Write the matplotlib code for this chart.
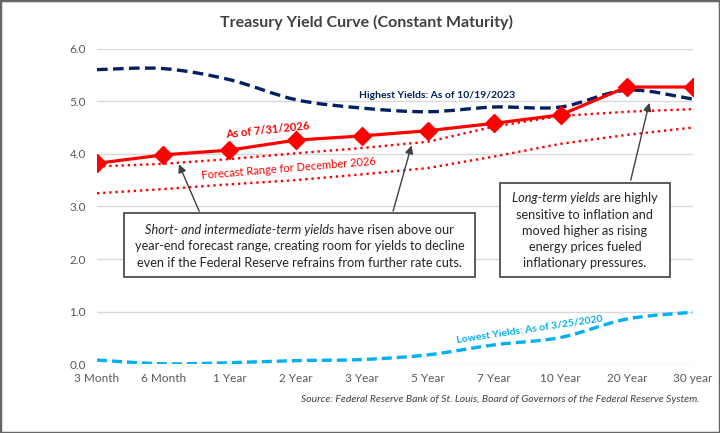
import matplotlib
matplotlib.use("Agg")
import matplotlib.pyplot as plt
import matplotlib.patches as mpatches
from matplotlib.path import Path
import numpy as np

plt.rcParams['font.family'] = ['Lato', 'DejaVu Sans']

maturities = ['3 Month', '6 Month', '1 Year', '2 Year', '3 Year', '5 Year',
              '7 Year', '10 Year', '20 Year', '30 year']
current = [3.82, 3.98, 4.07, 4.26, 4.34, 4.44, 4.58, 4.74, 5.27, 5.27]
highest = [5.60, 5.62, 5.41, 5.03, 4.87, 4.80, 4.89, 4.89, 5.21, 5.04]
lowest = [0.08, 0.01, 0.03, 0.07, 0.09, 0.18, 0.37, 0.51, 0.86, 0.99]
forecast_high = [3.76, 3.81, 3.90, 4.01, 4.11, 4.23, 4.52, 4.72, 4.80, 4.85]
forecast_low = [3.25, 3.33, 3.42, 3.50, 3.61, 3.73, 3.95, 4.19, 4.36, 4.50]
yticks = [0.0, 1.0, 2.0, 3.0, 4.0, 5.0, 6.0]

RED = '#ff0000'
NAVY = '#002060'
LBLUE = '#00b0f0'
GRAY = '#595959'


def smooth_path(xs, ys):
    # excel style smoothed line -> catmull-rom as cubic bezier
    pts = np.column_stack([xs, ys]).astype(float)
    n = len(pts)
    verts = [pts[0]]
    codes = [Path.MOVETO]
    for i in range(n - 1):
        p0 = pts[max(i - 1, 0)]
        p1 = pts[i]
        p2 = pts[i + 1]
        p3 = pts[min(i + 2, n - 1)]
        verts += [p1 + (p2 - p0) / 6, p2 - (p3 - p1) / 6, p2]
        codes += [Path.CURVE4] * 3
    return Path(verts, codes)


W, H = 720, 433
fig = plt.figure(figsize=(W / 100, H / 100), dpi=100)
fig.patches.append(mpatches.Rectangle((0, 0), 1, 1, transform=fig.transFigure,
                                      fill=False, edgecolor='#666666', lw=2.5))

ax = fig.add_axes([97 / W, 1 - 364.3 / H, (693 - 97) / W, (364.3 - 48.6) / H])
x = np.arange(len(maturities))

ax.plot(x, forecast_high, color=RED, lw=1.7, linestyle=(0, (1, 1.6)), zorder=3)
ax.plot(x, forecast_low, color=RED, lw=1.7, linestyle=(0, (1, 1.6)), zorder=3)
ax.add_patch(mpatches.PathPatch(smooth_path(x, highest), facecolor='none', edgecolor=NAVY,
                                lw=2.4, linestyle=(0, (3.2, 1.6)), zorder=4))
ax.add_patch(mpatches.PathPatch(smooth_path(x, lowest), facecolor='none', edgecolor=LBLUE,
                                lw=2.4, linestyle=(0, (3.0, 1.5)), zorder=4))
ax.plot(x, current, color=RED, lw=2.3, marker='D', markersize=9, zorder=5)

ax.set_xlim(0, 9)
ax.set_ylim(0, 6)
ax.set_xticks(x)
ax.set_xticklabels(maturities)
ax.set_yticks(yticks)
ax.set_yticklabels([f'{v:.1f}' for v in yticks])
ax.tick_params(length=0, labelsize=8.5, labelcolor=GRAY)
ax.tick_params(axis='y', pad=8)
ax.tick_params(axis='x', pad=6)
for s in ax.spines.values():
    s.set_visible(False)
ax.grid(axis='y', color='#d9d9d9', lw=1)
ax.set_axisbelow(True)

# series labels
ax.text(2.57, 4.45, 'As of 7/31/2026', color=RED, fontsize=8, fontweight='bold',
        rotation=6, ha='center', va='center')
ax.text(2.89, 3.73, 'Forecast Range for December 2026', color=RED, fontsize=8,
        rotation=4.7, ha='center', va='center')
ax.text(5.14, 5.11, 'Highest Yields: As of 10/19/2023', color=NAVY, fontsize=7.5,
        fontweight='bold', ha='center', va='center')
ax.text(6.53, 0.67, 'Lowest Yields: As of 3/25/2020', color=LBLUE, fontsize=7.5,
        fontweight='bold', rotation=8.4, ha='center', va='center')

# arrows
arrow_kw = dict(arrowstyle='-|>', color='#404040', lw=1, mutation_scale=12)
ax.annotate('', xy=(1.22, 3.85), xytext=(1.56, 2.86), arrowprops=arrow_kw, zorder=6)
ax.annotate('', xy=(4.76, 4.21), xytext=(4.46, 2.86), arrowprops=arrow_kw, zorder=6)
ax.annotate('', xy=(8.35, 5.02), xytext=(8.05, 3.45), arrowprops=arrow_kw, zorder=6)

# callout boxes (pixel positions of the reference)
def box(left, top, right, bottom):
    fig.patches.append(mpatches.Rectangle((left / W, 1 - bottom / H), (right - left) / W,
                                          (bottom - top) / H, transform=fig.transFigure,
                                          facecolor='white', edgecolor='#404040', lw=1.2,
                                          zorder=7))

box(124, 213, 475, 277)
box(500, 183, 670, 277)

TXT = 9.2
TCOL = '#262626'


def line(cx, cy, parts):
    renderer = fig.canvas.get_renderer()
    texts = []
    for s, style in parts:
        t = fig.text(0, 1 - cy / H, s, fontsize=TXT, color=TCOL, style=style,
                     va='center', ha='left', zorder=8)
        texts.append(t)
    widths = [t.get_window_extent(renderer).width for t in texts]
    pos = cx - sum(widths) / 2
    for t, w in zip(texts, widths):
        t.set_x(pos / W)
        pos += w


line(299.5, 230, [('Short- and intermediate-term yields', 'italic'), (' have risen above our', 'normal')])
line(299.5, 246.5, [('year-end forecast range, creating room for yields to decline', 'normal')])
line(299.5, 263, [('even if the Federal Reserve refrains from further rate cuts.', 'normal')])

line(585, 198.3, [('Long-term yields', 'italic'), (' are highly', 'normal')])
line(585, 214.5, [('sensitive to inflation and', 'normal')])
line(585, 231, [('moved higher as rising', 'normal')])
line(585, 247.3, [('energy prices fueled', 'normal')])
line(585, 263.3, [('inflationary pressures.', 'normal')])

fig.text(367 / W, 1 - 22 / H, 'Treasury Yield Curve (Constant Maturity)', fontsize=11.5,
         fontweight='bold', color='#404040', ha='center', va='center')
fig.text(700 / W, 1 - 399 / H, 'Source: Federal Reserve Bank of St. Louis, Board of Governors '
         'of the Federal Reserve System.', fontsize=7.5, style='italic', color='#404040',
         ha='right', va='center')

fig.savefig('out.png', dpi=100)
